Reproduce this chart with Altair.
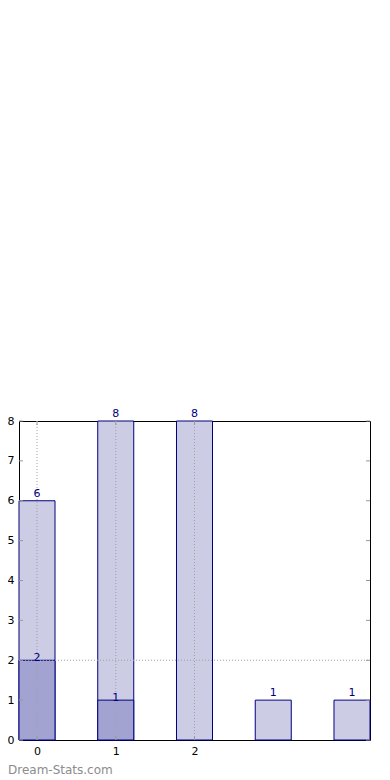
import altair as alt
import pandas as pd

positions = [0, 1, 2, 3, 4]
light_values = [6, 8, 8, 1, 1]
dark_positions = [0, 1]
dark_values = [2, 1]
x_tick_values = [0, 1, 2]
y_tick_values = [0, 1, 2, 3, 4, 5, 6, 7, 8]
grid_y_values = [2]
watermark = "Dream-Stats.com"

HALF = 0.2286
W, H = 351, 319
FONT = "DejaVu Sans"
EDGE = "#00007f"

light = pd.DataFrame({"pos": positions, "val": light_values})
light["x0"] = light["pos"] - HALF
light["x1"] = light["pos"] + HALF
dark = pd.DataFrame({"pos": dark_positions, "val": dark_values})
dark["x0"] = dark["pos"] - HALF
dark["x1"] = dark["pos"] + HALF

xscale = alt.Scale(domain=[-HALF, 4 + HALF], nice=False, zero=False)
yscale = alt.Scale(domain=[0, 8], nice=False)

xaxis = alt.Axis(values=x_tick_values, title=None, grid=False, domain=False,
                 ticks=False, labelPadding=5, labelFont=FONT, labelFontSize=11,
                 labelColor="#000000", format="d", labelOverlap=False)
yaxis = alt.Axis(values=y_tick_values, title=None, grid=False, domain=False,
                 ticks=False, labelPadding=5, labelFont=FONT, labelFontSize=11,
                 labelColor="#000000", format="d", labelOverlap=False)


def X(field):
    return alt.X(field, scale=xscale, axis=xaxis, title=None)


def Y(field):
    return alt.Y(field, scale=yscale, axis=yaxis, title=None)


base_light = alt.Chart(light)
bars_light = base_light.mark_rect(fill="#cccce5", stroke=EDGE, strokeWidth=1).encode(
    x=X("x0:Q"), x2="x1:Q", y=Y("val:Q"), y2=alt.datum(0),
)
labels_light = base_light.mark_text(color=EDGE, font=FONT, fontSize=11,
                                    baseline="bottom", dy=-2).encode(
    x=X("pos:Q"), y=Y("val:Q"), text=alt.Text("val:Q", format="d"),
)

base_dark = alt.Chart(dark)
bars_dark = base_dark.mark_rect(fill="#a3a3d1", stroke=EDGE, strokeWidth=1).encode(
    x=X("x0:Q"), x2="x1:Q", y=Y("val:Q"), y2=alt.datum(0),
)
labels_dark = base_dark.mark_text(color=EDGE, font=FONT, fontSize=11,
                                  baseline="middle", dy=-2).encode(
    x=X("pos:Q"), y=Y("val:Q"), text=alt.Text("val:Q", format="d"),
)

xt = pd.DataFrame({"t": x_tick_values})
yt = pd.DataFrame({"t": y_tick_values})
gy = pd.DataFrame({"t": grid_y_values})

grid_v = alt.Chart(xt).mark_rule(color="#a0a0a0", strokeDash=[1, 2], strokeWidth=1).encode(
    x=X("t:Q"), y=alt.value(0), y2=alt.value(H))
grid_h = alt.Chart(gy).mark_rule(color="#a0a0a0", strokeDash=[1, 2], strokeWidth=1).encode(
    y=Y("t:Q"), x=alt.value(0), x2=alt.value(W))

tick_col = "#999999"
ticks_bottom = alt.Chart(xt).mark_rule(color=tick_col, strokeWidth=1).encode(
    x=X("t:Q"), y=alt.value(H), y2=alt.value(H - 4))
ticks_top = alt.Chart(xt).mark_rule(color=tick_col, strokeWidth=1).encode(
    x=X("t:Q"), y=alt.value(0), y2=alt.value(4))
ticks_left = alt.Chart(yt).mark_rule(color=tick_col, strokeWidth=1).encode(
    y=Y("t:Q"), x=alt.value(0), x2=alt.value(4))
ticks_right = alt.Chart(yt).mark_rule(color=tick_col, strokeWidth=1).encode(
    y=Y("t:Q"), x=alt.value(W - 4), x2=alt.value(W))

wm = alt.Chart(pd.DataFrame({"t": [watermark]})).mark_text(
    color="#8c8c8c", font=FONT, fontSize=12, align="left",
    baseline="middle").encode(
    x=alt.value(-11), y=alt.value(H + 30), text="t:N")

chart = alt.layer(
    bars_light, bars_dark, grid_v, grid_h,
    ticks_bottom, ticks_top, ticks_left, ticks_right,
    labels_light, labels_dark, wm,
).properties(
    width=W, height=H,
    autosize=alt.AutoSizeParams(type="none"),
    padding={"left": 11, "top": 413, "right": 12, "bottom": 40},
).configure_view(stroke="#000000", strokeWidth=1)

chart.save("out.html", embed_options={"renderer": "svg", "actions": False})
